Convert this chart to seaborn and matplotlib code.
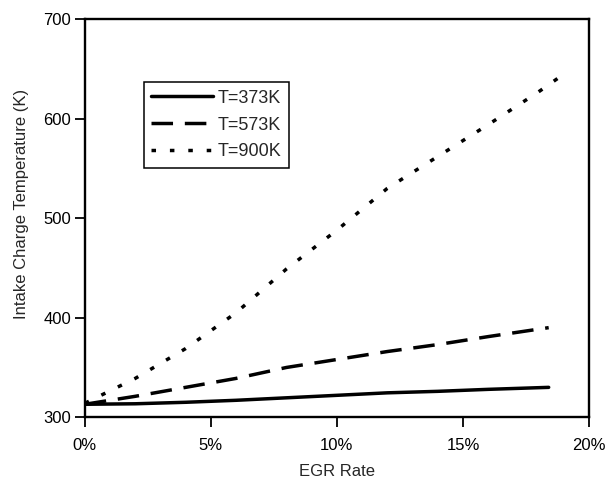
import matplotlib

matplotlib.use("Agg")
import matplotlib.pyplot as plt
import pandas as pd
import seaborn as sns
from matplotlib.ticker import FuncFormatter

# EGR rate (%) and intake charge temperature (K)
egr_373 = [0, 2, 4, 6, 8, 10, 12, 14, 16, 18.4]
temp_373 = [313, 313.5, 315, 317, 319.5, 322, 324.5, 326, 328, 330]

egr_573 = [0, 2, 4, 6, 8, 10, 12, 14, 16, 18.4]
temp_573 = [313, 321, 330, 339, 350, 358, 366, 373, 381, 390]

egr_900 = [0, 2, 4, 6, 8, 10, 12, 14, 16, 18, 18.9]
temp_900 = [314, 339, 369, 405, 449, 488, 530, 562, 594, 627, 643]

series_labels = ["T=373K", "T=573K", "T=900K"]

frames = []
for label, xs, ys in zip(series_labels, [egr_373, egr_573, egr_900], [temp_373, temp_573, temp_900]):
    frames.append(pd.DataFrame({"egr": xs, "temp": ys, "case": label}))
df = pd.concat(frames, ignore_index=True)

sns.set_theme(style="ticks")
plt.rcParams["font.family"] = ["Liberation Sans", "DejaVu Sans"]

fig = plt.figure(figsize=(6.06, 4.79), dpi=100)
ax = fig.add_axes([0.140, 0.129, 0.832, 0.831])

dashes = {"T=373K": "", "T=573K": (6.2, 3.4), "T=900K": (1.3, 4.0)}
sns.lineplot(
    data=df, x="egr", y="temp", style="case", style_order=series_labels,
    dashes=dashes, color="black", linewidth=2.5, ax=ax, sort=False,
)

ax.set_xlim(0, 20)
ax.set_ylim(300, 700)
ax.set_xticks([0, 5, 10, 15, 20])
ax.set_yticks([300, 400, 500, 600, 700])
ax.xaxis.set_major_formatter(FuncFormatter(lambda v, _: f"{v:.0f}%"))
ax.tick_params(direction="out", length=7, width=1.3, colors="black", labelsize=12)
ax.tick_params(axis="x", pad=8)
ax.tick_params(axis="y", pad=3)
for spine in ax.spines.values():
    spine.set_visible(True)
    spine.set_color("black")
    spine.set_linewidth(1.7)

ax.set_xlabel("EGR Rate", fontsize=12, labelpad=8)
ax.set_ylabel("Intake Charge Temperature (K)", fontsize=12)
ax.yaxis.set_label_coords(-0.11, 0.535)

leg = ax.legend(
    loc="upper left", bbox_to_anchor=(0.117, 0.842), borderaxespad=0,
    handlelength=3.4, handletextpad=0.25, fontsize=13, frameon=True,
    fancybox=False, shadow=False, borderpad=0.42, labelspacing=0.55,
)
leg.get_frame().set_edgecolor("black")
leg.get_frame().set_linewidth(1.1)
leg.get_frame().set_alpha(1)

fig.savefig("out.png", dpi=100)
plt.close(fig)
